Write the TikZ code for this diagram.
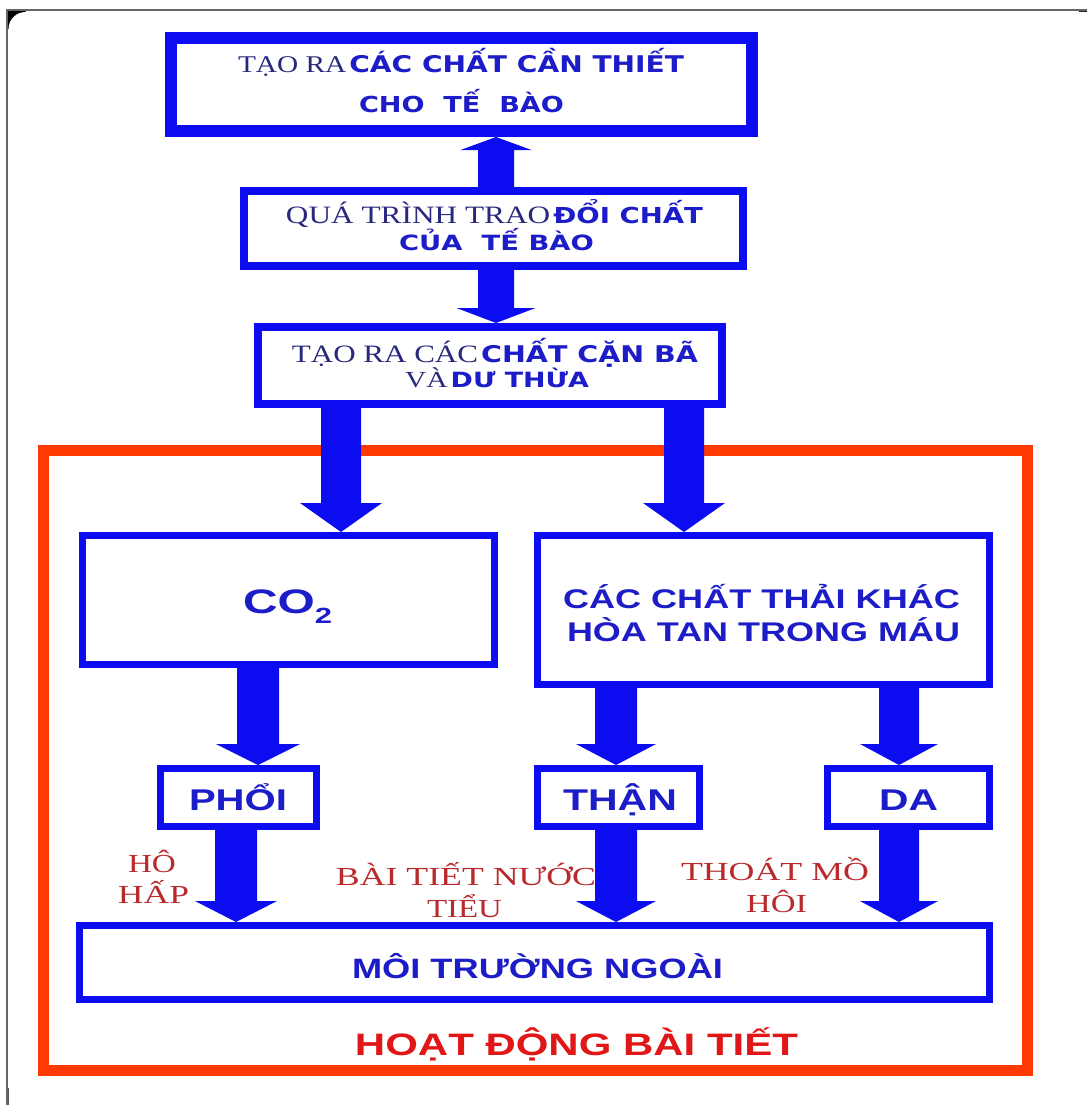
\documentclass[tikz,border=0pt]{standalone}
\usepackage{fontspec}
\usepackage{graphicx}
\usetikzlibrary{calc}
\setmainfont{Liberation Serif}
\newfontfamily\serifvn{Liberation Serif}
\newfontfamily\widesans{DejaVu Sans}
\newfontfamily\arialvn{Liberation Sans}
\definecolor{boxblue}{RGB}{12,12,240}
\definecolor{txtblue}{RGB}{28,28,200}
\definecolor{navyvn}{RGB}{40,40,125}
\definecolor{frame}{RGB}{255,58,0}
\definecolor{lblred}{RGB}{185,42,45}
\definecolor{ttlred}{RGB}{225,22,22}
\newcommand\fitw[2]{\resizebox{#1}{\height}{#2}}
\newcommand\sr[2]{{\serifvn\fontsize{#1}{#1}\selectfont\color{navyvn}#2}}
\newcommand\sw[2]{{\widesans\bfseries\fontsize{#1}{#1}\selectfont\color{txtblue}#2}}
\newcommand\sa[2]{{\arialvn\bfseries\fontsize{#1}{#1}\selectfont\color{txtblue}#2}}
\newcommand\rl[1]{{\serifvn\fontsize{26}{26}\selectfont\color{lblred}#1}}
\newcommand\barrow[5]{%
  \fill[boxblue] let \p1=(#1), \p2=(#2), \p3=($(#2)!#5!(#1)$) in
  (\x1-#3,\y1) -- (\x1+#3,\y1) -- (\x1+#3,\y3) -- (\x1+#4,\y3) -- (\x2,\y2)
  -- (\x1-#4,\y3) -- (\x1-#3,\y3) -- cycle;}
\tikzset{
  bx/.style={draw=boxblue, line width=#1, inner sep=0pt},
  txt/.style={inner sep=0pt, anchor=base}
}
\begin{document}
\begin{tikzpicture}[x=1pt,y=-1pt]
\useasboundingbox (0,0) rectangle (1087,1105);
\fill[white] (0,0) rectangle (1087,1105);
% screen frame
\fill[black] (7,10) rectangle (26,29);
\fill[black] (7,1088) rectangle (22,1105);
\fill[black] (1079,10) rectangle (1087,18);
\fill[white, rounded corners=17] (8.5,12) rectangle (1110,1130);
\draw[black!60, line width=2.2pt] (7,1105) -- (7,10) -- (1087,10);
% red frame
\node[draw=frame, line width=11pt, minimum width=984pt, minimum height=620pt, inner sep=0pt] (rf) at (535.5,760.5) {};
% boxes
\node[bx=12pt, minimum width=581pt, minimum height=93pt] (box1) at (461.5,84.5) {};
\node[bx=8pt, minimum width=499pt, minimum height=75pt] (box2) at (493.5,228.5) {};
\node[bx=8pt, minimum width=464pt, minimum height=77pt] (box3) at (490,365.5) {};
\node[bx=7pt, minimum width=412pt, minimum height=129pt] (co2) at (288.5,600) {};
\node[bx=7pt, minimum width=452pt, minimum height=149pt] (oth) at (763.5,610) {};
\node[bx=7pt, minimum width=156pt, minimum height=58pt] (lung) at (238.5,797.5) {};
\node[bx=7pt, minimum width=162pt, minimum height=58pt] (kid) at (618.5,797.5) {};
\node[bx=7pt, minimum width=162pt, minimum height=58pt] (skin) at (908.5,797.5) {};
\node[bx=7pt, minimum width=910pt, minimum height=74pt] (env) at (534.5,962.5) {};
% texts
\node[txt] (t1a) at (461,73) {\fitw{446pt}{\sr{24}{TẠO RA} \sw{23}{CÁC CHẤT CẦN THIẾT}}};
\node[txt] (t1b) at (461.5,113) {\fitw{205pt}{\sw{22}{CHO\ \ TẾ\ \ BÀO}}};
\node[txt] (t2a) at (494.5,223) {\fitw{417pt}{\sr{25}{QUÁ TRÌNH TRAO} \sw{22}{ĐỔI CHẤT}}};
\node[txt] (t2b) at (496.5,250) {\fitw{195pt}{\sw{21}{CỦA\ \ TẾ BÀO}}};
\node[txt] (t3a) at (495,362) {\fitw{406pt}{\sr{25}{TẠO RA CÁC} \sw{23}{CHẤT CẶN BÃ}}};
\node[txt] (t3b) at (497,387) {\fitw{184pt}{\sr{23}{VÀ} \sw{21}{DƯ THỪA}}};
\node[txt] (tco) at (287.5,613) {\fitw{89pt}{\sa{34}{CO\raisebox{-10pt}{\fontsize{22}{22}\selectfont 2}}}};
\node[txt] (toa) at (761.5,608) {\fitw{397pt}{\sa{27}{CÁC CHẤT THẢI KHÁC}}};
\node[txt] (tob) at (763.5,641) {\fitw{393pt}{\sa{27}{HÒA TAN TRONG MÁU}}};
\node[txt] (tl) at (238,810) {\fitw{98pt}{\sa{30}{PHỔI}}};
\node[txt] (tk) at (620,810) {\fitw{114pt}{\sa{30}{THẬN}}};
\node[txt] (ts) at (908.5,810) {\fitw{59pt}{\sa{30}{DA}}};
\node[txt] (te) at (537.5,978) {\fitw{371pt}{\sa{28}{MÔI TRƯỜNG NGOÀI}}};
\node[txt] (tt) at (576.5,1055) {\fitw{443pt}{{\arialvn\bfseries\fontsize{31}{31}\selectfont\color{ttlred}HOẠT ĐỘNG BÀI TIẾT}}};
% red labels
\node[txt] (r1a) at (152,872) {\fitw{48pt}{\rl{HÔ}}};
\node[txt] (r1b) at (153.5,903) {\fitw{71pt}{\rl{HẤP}}};
\node[txt] (r2a) at (466,885) {\fitw{260pt}{\rl{BÀI TIẾT NƯỚC}}};
\node[txt] (r2b) at (464.5,917) {\fitw{75pt}{\rl{TIỂU}}};
\node[txt] (r3a) at (775,880) {\fitw{188pt}{\rl{THOÁT MỒ}}};
\node[txt] (r3b) at (776.5,912) {\fitw{61pt}{\rl{HÔI}}};
% arrow axes
\coordinate (xA) at (496,0);
\coordinate (xB) at (341,0);
\coordinate (xC) at (684,0);
\coordinate (xD) at (258,0);
\coordinate (xE) at (616,0);
\coordinate (xF) at (899,0);
\coordinate (xG) at (236,0);
% arrows
\barrow{box2.north -| xA}{box1.south -| xA}{18pt}{35.5pt}{13pt}
\barrow{box2.south -| xA}{box3.north -| xA}{18pt}{39.5pt}{15pt}
\barrow{box3.south -| xB}{co2.north -| xB}{20pt}{41pt}{29pt}
\barrow{box3.south -| xC}{oth.north -| xC}{20pt}{41pt}{29pt}
\barrow{co2.south -| xD}{lung.north -| xD}{21pt}{42pt}{21pt}
\barrow{oth.south -| xE}{kid.north -| xE}{21pt}{40pt}{21pt}
\barrow{oth.south -| xF}{skin.north -| xF}{20pt}{39pt}{21pt}
\barrow{lung.south -| xG}{env.north -| xG}{21pt}{41pt}{21pt}
\barrow{kid.south -| xE}{env.north -| xE}{21pt}{40pt}{21pt}
\barrow{skin.south -| xF}{env.north -| xF}{20pt}{39pt}{21pt}
\end{tikzpicture}
\end{document}
